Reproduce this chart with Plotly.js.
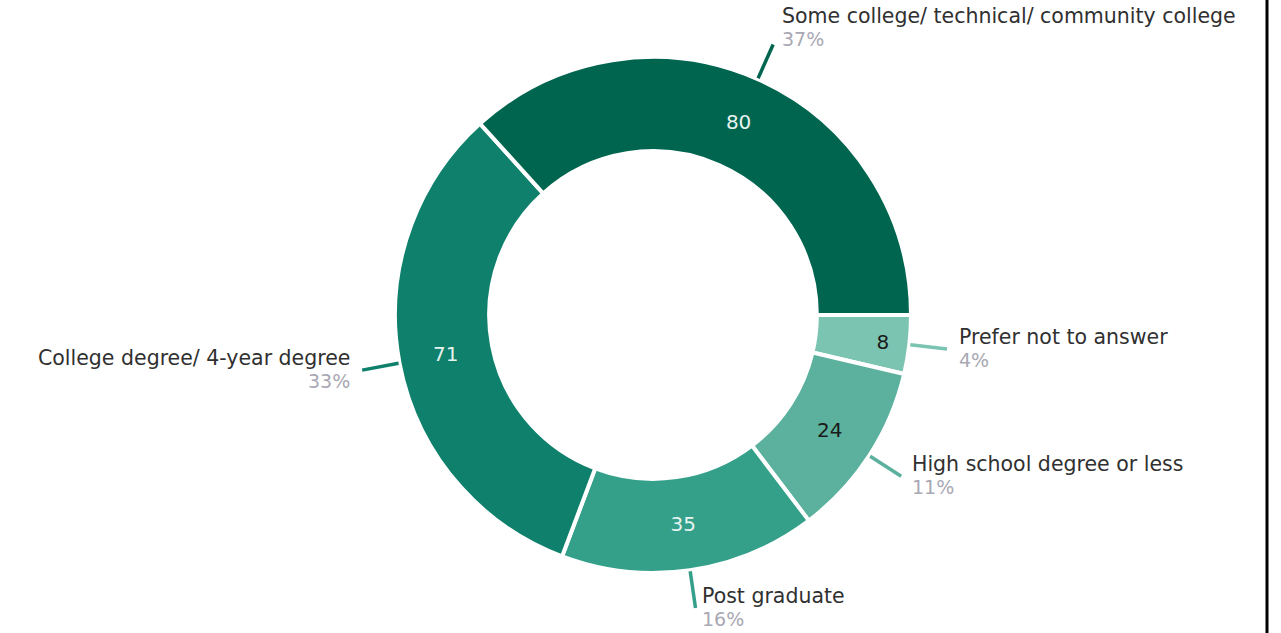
<!DOCTYPE html>
<html>
<head>
<meta charset="utf-8">
<script src="https://cdn.plot.ly/plotly-3.0.1.min.js"></script>
<style>
  html, body { margin: 0; padding: 0; background: #ffffff; }
  #chart { width: 1281px; height: 633px; }
</style>
</head>
<body>
<div id="chart"></div>
<script>
// ---- Data ----
const labels = [
  'Prefer not to answer',
  'High school degree or less',
  'Post graduate',
  'College degree/ 4-year degree',
  'Some college/ technical/ community college'
];
const values = [8, 24, 35, 71, 80];
const sliceColors = ['#7cc4b2', '#5bb19d', '#34a08a', '#0f806b', '#00654f'];
const valueTextColors = ['#1a1a1a', '#1a1a1a', '#e6f3ef', '#e6f3ef', '#e6f3ef'];

// ---- Layout constants ----
const W = 1281, H = 633;
const CX = 653, CY = 315, R = 258;
const HOLE = 0.635;
const FONT = 'DejaVu Sans, sans-serif';

const total = values.reduce((a, b) => a + b, 0);

const pie = {
  type: 'pie',
  labels: labels,
  values: values,
  sort: false,
  direction: 'clockwise',
  rotation: 90,
  hole: HOLE,
  marker: { colors: sliceColors, line: { color: '#ffffff', width: 4 } },
  textinfo: 'value',
  textposition: 'inside',
  insidetextorientation: 'horizontal',
  insidetextfont: { family: FONT, size: 20, color: valueTextColors },
  showlegend: false,
  hoverinfo: 'label+value+percent',
  domain: {
    x: [(CX - 320) / W, (CX + 320) / W],
    y: [(H - CY - R) / H, (H - CY + R) / H]
  }
};

// Leader lines and outside labels, computed from the slice angles
const shapes = [];
const annotations = [];
let cum = 0;
values.forEach((v, i) => {
  const startDeg = -360 * cum / total;      // math angle, 0 = east, ccw positive
  const midDeg = startDeg - 180 * v / total;
  cum += v;
  const a = midDeg * Math.PI / 180;
  const r1 = R + 1, r2 = R + 38;
  const x1 = CX + r1 * Math.cos(a), y1 = CY - r1 * Math.sin(a);
  const x2 = CX + r2 * Math.cos(a), y2 = CY - r2 * Math.sin(a);
  shapes.push({
    type: 'line', xref: 'paper', yref: 'paper',
    x0: x1 / W, y0: 1 - y1 / H, x1: x2 / W, y1: 1 - y2 / H,
    line: { color: sliceColors[i], width: 3.5 }
  });
  const right = Math.cos(a) >= 0;
  const gap = 4 + 6 * Math.abs(Math.cos(a));
  const pct = Math.round(100 * v / total) + '%';
  const lift = Math.sin(a) > 0.5 ? 16 : 0;
  const common = {
    xref: 'paper', yref: 'paper',
    x: (x2 + (right ? gap : -gap)) / W,
    y: 1 - y2 / H,
    xanchor: right ? 'left' : 'right',
    yanchor: 'middle',
    align: right ? 'left' : 'right',
    showarrow: false
  };
  annotations.push(Object.assign({}, common, {
    yshift: 12 + lift,
    text: labels[i],
    font: { family: FONT, size: 20.5, color: '#303030' }
  }));
  annotations.push(Object.assign({}, common, {
    yshift: -11 + lift,
    text: pct,
    font: { family: FONT, size: 19, color: '#a9a8b4' }
  }));
});

// right frame line
shapes.push({
  type: 'line', xref: 'paper', yref: 'paper',
  x0: 1267 / W, x1: 1267 / W, y0: 0, y1: 1,
  line: { color: '#000000', width: 3 }
});

const layout = {
  width: W, height: H,
  margin: { l: 0, r: 0, t: 0, b: 0 },
  paper_bgcolor: '#ffffff',
  plot_bgcolor: '#ffffff',
  font: { family: FONT, size: 19, color: '#333333' },
  shapes: shapes,
  annotations: annotations,
  showlegend: false
};

Plotly.newPlot('chart', [pie], layout, { displayModeBar: false, staticPlot: true });
</script>
</body>
</html>
